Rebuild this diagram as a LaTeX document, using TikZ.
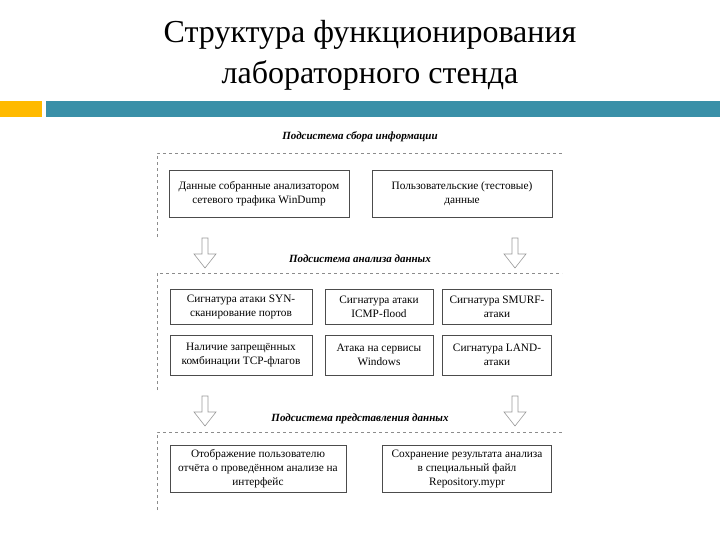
\documentclass[tikz,border=0pt]{standalone}
\usepackage{fontspec}
\setmainfont{Liberation Serif}
\definecolor{barteal}{HTML}{3A90A8}
\definecolor{barorange}{HTML}{FFBA00}
\begin{document}
\begin{tikzpicture}[x=1pt,y=-1pt,
  box/.style={draw=black!70,line width=0.6pt,align=center,font=\fontsize{11.3}{14}\selectfont,inner sep=0pt},
  frame/.style={draw=black!45,dashed,line width=0.6pt},
  head/.style={font=\fontsize{11}{13}\selectfont\bfseries\itshape},
  pics/harrow/.style={code={\draw[black!40,fill=white,line width=0.6pt]
    (-3,0)--(3,0)--(3,16)--(11,16)--(0,30)--(-11,16)--(-3,16)--cycle;}}]
\useasboundingbox (0,0) rectangle (720,540);
\fill[white] (0,0) rectangle (720,540);
\node[font=\fontsize{32}{41}\selectfont,align=center] (title) at (370,55) {Структура функционирования\\лабораторного стенда};
\fill[barorange] (0,101) rectangle (42,117);
\fill[barteal] (46,101) rectangle (720,117);
\node[head] (h1) at (360,137) {Подсистема сбора информации};
\draw[frame] (157,237) -- (157,153) -- (562,153);
\node[box,minimum width=180,minimum height=47] (a1) at (259,194) {Данные собранные анализатором\\сетевого трафика WinDump};
\node[box,minimum width=180,minimum height=47] (a2) at (462,194) {Пользовательские (тестовые)\\данные};
\pic at (205,238) {harrow};
\pic at (515,238) {harrow};
\node[head] (h2) at (360,259) {Подсистема анализа данных};
\draw[frame] (157,390) -- (157,273) -- (562,273);
\node[box,minimum width=142,minimum height=35] (b1) at (241,307) {Сигнатура атаки SYN-\\сканирование портов};
\node[box,minimum width=108,minimum height=35] (b2) at (379,307) {Сигнатура атаки\\ICMP-flood};
\node[box,minimum width=109,minimum height=35] (b3) at (497,307) {Сигнатура SMURF-\\атаки};
\node[box,minimum width=142,minimum height=40] (c1) at (241,355) {Наличие запрещённых\\комбинации TCP-флагов};
\node[box,minimum width=108,minimum height=40] (c2) at (379,355) {Атака на сервисы\\Windows};
\node[box,minimum width=109,minimum height=40] (c3) at (497,355) {Сигнатура LAND-\\атаки};
\pic at (205,396) {harrow};
\pic at (515,396) {harrow};
\node[head] (h3) at (360,419) {Подсистема представления данных};
\draw[frame] (157,510) -- (157,432) -- (562,432);
\node[box,minimum width=176,minimum height=47] (d1) at (258,469) {Отображение пользователю\\отчёта о проведённом анализе на\\интерфейс};
\node[box,minimum width=169,minimum height=47] (d2) at (467,469) {Сохранение результата анализа\\в специальный файл\\Repository.mypr};
\end{tikzpicture}
\end{document}
